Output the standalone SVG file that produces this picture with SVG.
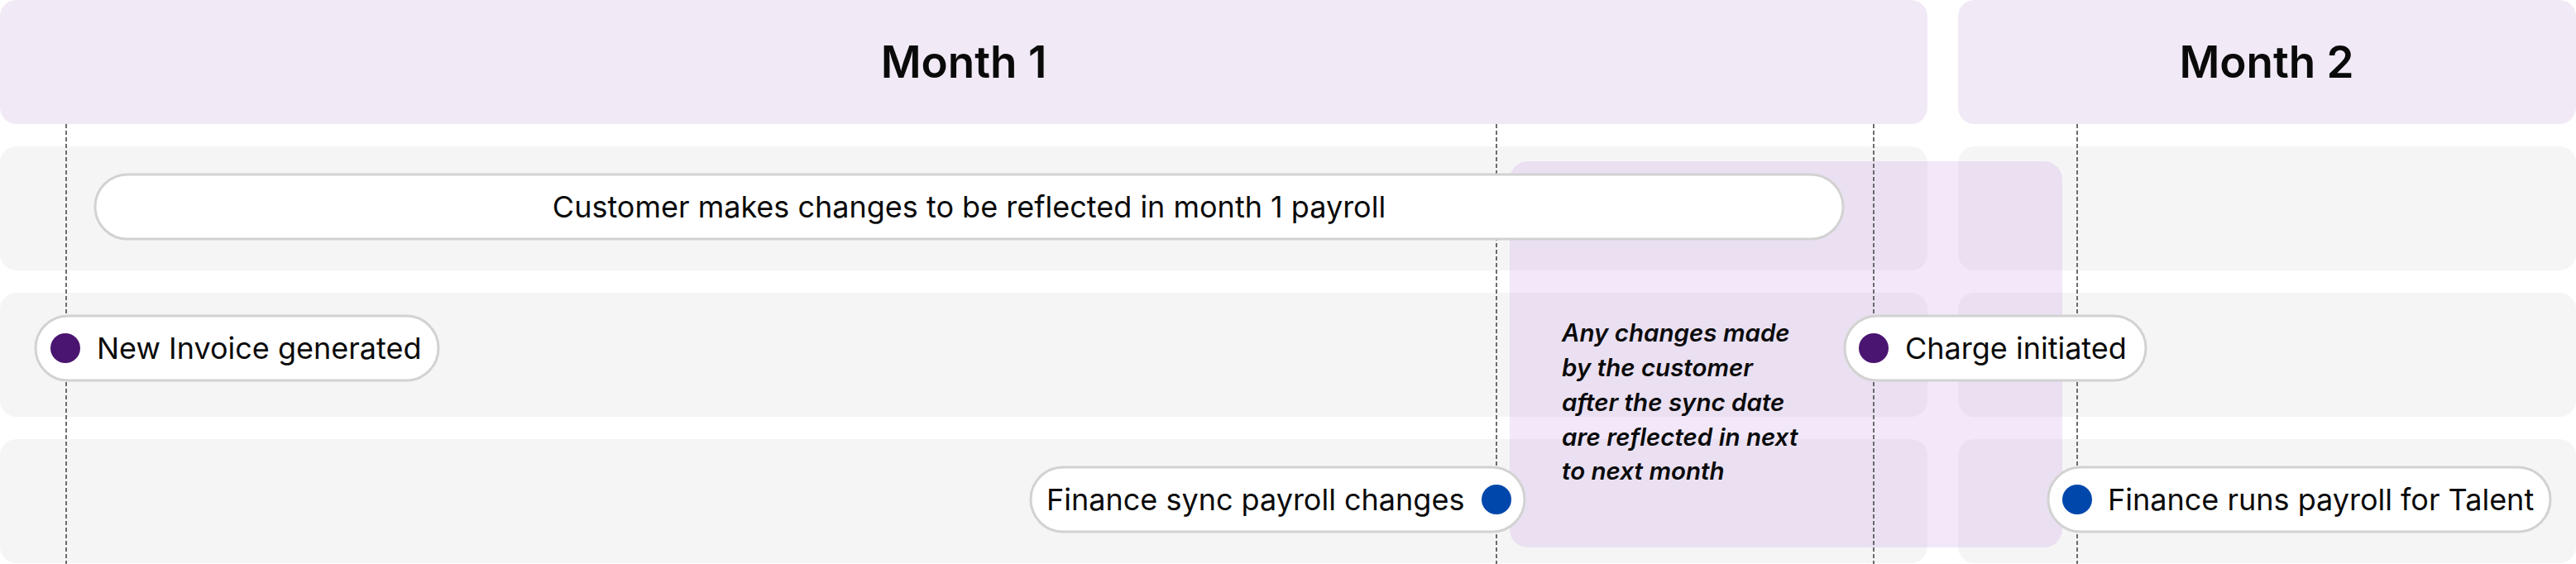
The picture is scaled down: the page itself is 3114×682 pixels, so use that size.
<svg xmlns="http://www.w3.org/2000/svg" width="3114" height="682" viewBox="0 0 3114 682">
<style>
.hdr{fill:#F1E9F6}
.row{fill:#F5F5F5}
.pill{fill:#FFFFFF;stroke:#D2D2D2;stroke-width:3}
.t{font-family:Inter,"Liberation Sans",sans-serif;font-size:36px;fill:#0A0A0A}
.ttl{font-family:Inter,"Liberation Sans",sans-serif;font-size:53px;font-weight:600;fill:#0A0A0A;text-anchor:middle}
.note{font-family:Inter,"Liberation Sans",sans-serif;font-size:29.5px;font-style:italic;font-weight:600;fill:#0A0A0A}
.dash{stroke:#4A4A4A;stroke-width:1.6;stroke-dasharray:5 3;fill:none}
.dp{fill:#4A1570}
.db{fill:#0047AB}
</style>
<rect width="3114" height="682" fill="#FFFFFF"/>
<g id="month1">
<rect class="hdr" x="0" y="0" width="2330" height="150" rx="20"/>
<text class="ttl" x="1165" y="94">Month 1</text>
</g>
<g id="month2">
<rect class="hdr" x="2367" y="0" width="747" height="150" rx="20"/>
<text class="ttl" x="2740" y="94">Month 2</text>
</g>
<g id="lanes">
<rect class="row" x="0" y="177" width="2330" height="150" rx="20"/>
<rect class="row" x="2367" y="177" width="747" height="150" rx="20"/>
<rect class="row" x="0" y="354" width="2330" height="150" rx="20"/>
<rect class="row" x="2367" y="354" width="747" height="150" rx="20"/>
<rect class="row" x="0" y="531" width="2330" height="150" rx="20"/>
<rect class="row" x="2367" y="531" width="747" height="150" rx="20"/>
</g>
<g id="sync-window">
<rect x="1825" y="195" width="668" height="467" rx="22" fill="rgb(190,140,230)" fill-opacity="0.2"/>
<text class="note"><tspan x="1888" y="413">Any changes made</tspan><tspan x="1888" y="455">by the customer</tspan><tspan x="1888" y="497">after the sync date</tspan><tspan x="1888" y="539">are reflected in next</tspan><tspan x="1888" y="580">to next month</tspan></text>
</g>
<g id="connectors">
<line class="dash" x1="80" y1="150" x2="80" y2="682"/>
<line class="dash" x1="1809" y1="150" x2="1809" y2="682"/>
<line class="dash" x1="2265" y1="150" x2="2265" y2="682"/>
<line class="dash" x1="2511" y1="150" x2="2511" y2="682"/>
</g>
<g id="customer-changes">
<rect class="pill" x="115" y="211" width="2113" height="78" rx="39"/>
<text class="t" x="1171.5" y="263" text-anchor="middle">Customer makes changes to be reflected in month 1 payroll</text>
</g>
<g id="new-invoice">
<rect class="pill" x="43" y="382" width="487" height="78" rx="39"/>
<circle class="dp" cx="79" cy="421" r="18"/>
<text class="t" x="117" y="434">New Invoice generated</text>
</g>
<g id="charge-initiated">
<rect class="pill" x="2230" y="382" width="364" height="78" rx="39"/>
<circle class="dp" cx="2265" cy="421" r="18"/>
<text class="t" x="2303" y="434">Charge initiated</text>
</g>
<g id="finance-sync">
<rect class="pill" x="1246" y="565" width="597" height="78" rx="39"/>
<circle class="db" cx="1809" cy="604" r="18"/>
<text class="t" x="1265" y="617">Finance sync payroll changes</text>
</g>
<g id="finance-runs">
<rect class="pill" x="2476" y="565" width="607" height="78" rx="39"/>
<circle class="db" cx="2511" cy="604" r="18"/>
<text class="t" x="2548" y="617">Finance runs payroll for Talent</text>
</g>
</svg>
